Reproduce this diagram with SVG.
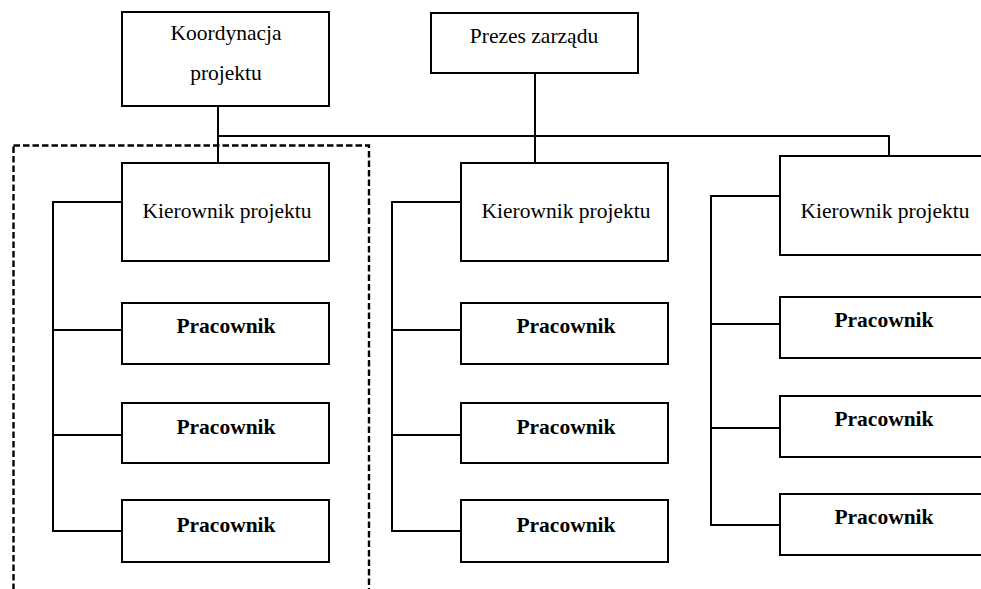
<svg xmlns="http://www.w3.org/2000/svg" width="981" height="589" viewBox="0 0 981 589">
<style>
.box{fill:#fff;stroke:#000;stroke-width:2}
.ln{fill:none;stroke:#000;stroke-width:2}
.t{font-family:'Liberation Serif','Tinos','Times New Roman','DejaVu Serif',serif;font-size:21.5px;fill:#000;text-anchor:middle}
.b{font-weight:bold}
.dash{fill:none;stroke:#000;stroke-width:2.4;stroke-dasharray:6.5 3}
</style>
<rect width="981" height="589" fill="#fff"/>
<rect class="dash" x="13.5" y="145.5" width="355.5" height="470"/>
<g id="connectors">
<path class="ln" d="M218 106V163M218 136H889V156M535 73V163"/>
<path class="ln" d="M122 202H53V531H122M53 330H122M53 435H122"/>
<path class="ln" d="M461 202H392V531H461M392 330H461M392 435H461"/>
<path class="ln" d="M780 196H711V525H780M711 324H780M711 428H780"/>
</g>
<g id="koordynacja"><rect class="box" x="122" y="12" width="207" height="94"/><text class="t" x="226" y="40" font-family="Liberation Serif, serif">Koordynacja</text><text class="t" x="226" y="80" font-family="Liberation Serif, serif">projektu</text></g>
<g id="prezes"><rect class="box" x="431" y="13" width="207" height="60"/><text class="t" x="534" y="43" font-family="Liberation Serif, serif">Prezes zarządu</text></g>
<g id="kier1"><rect class="box" x="122" y="163" width="207" height="98"/><text class="t" x="227" y="218">Kierownik projektu</text></g>
<g id="p1a"><rect class="box" x="122" y="303" width="207" height="61"/><text class="t b" x="226" y="333">Pracownik</text></g>
<g id="p1b"><rect class="box" x="122" y="403" width="207" height="60"/><text class="t b" x="226" y="434">Pracownik</text></g>
<g id="p1c"><rect class="box" x="122" y="500" width="207" height="62"/><text class="t b" x="226" y="532">Pracownik</text></g>
<g id="kier2"><rect class="box" x="461" y="163" width="207" height="98"/><text class="t" x="566" y="218">Kierownik projektu</text></g>
<g id="p2a"><rect class="box" x="461" y="303" width="207" height="61"/><text class="t b" x="566" y="333">Pracownik</text></g>
<g id="p2b"><rect class="box" x="461" y="403" width="207" height="60"/><text class="t b" x="566" y="434">Pracownik</text></g>
<g id="p2c"><rect class="box" x="461" y="500" width="207" height="62"/><text class="t b" x="566" y="532">Pracownik</text></g>
<g id="kier3"><rect class="box" x="780" y="156" width="207" height="99"/><text class="t" x="885" y="218">Kierownik projektu</text></g>
<g id="p3a"><rect class="box" x="780" y="297" width="207" height="61"/><text class="t b" x="884" y="327">Pracownik</text></g>
<g id="p3b"><rect class="box" x="780" y="396" width="207" height="61"/><text class="t b" x="884" y="426">Pracownik</text></g>
<g id="p3c"><rect class="box" x="780" y="494" width="207" height="61"/><text class="t b" x="884" y="524">Pracownik</text></g>
</svg>
